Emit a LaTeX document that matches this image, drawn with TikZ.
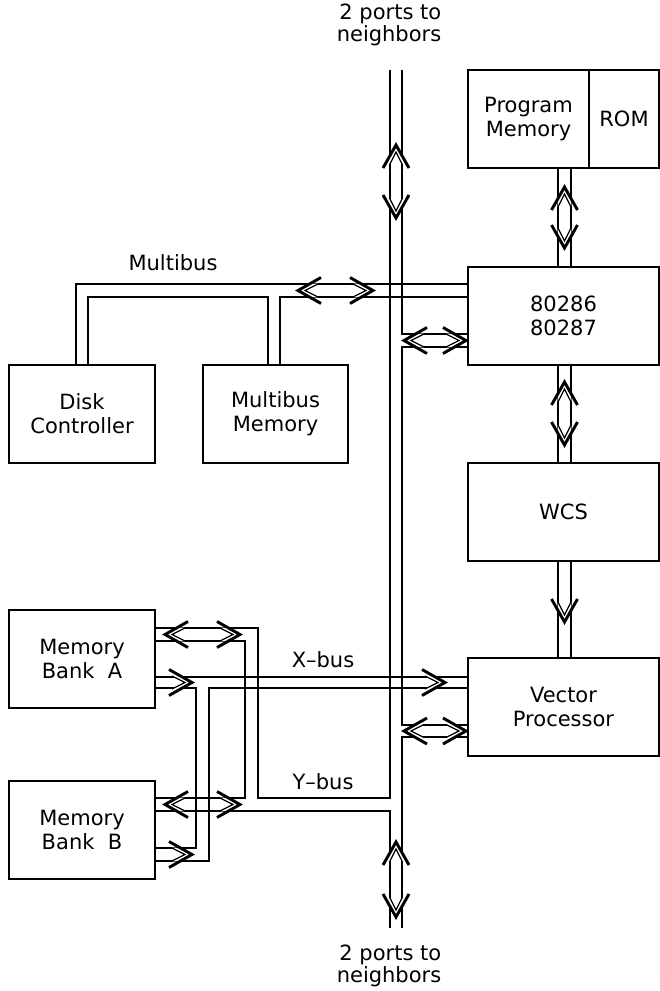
\documentclass[tikz,border=0pt]{standalone}
\usepackage{fontspec}
\setmainfont{DejaVu Sans}
\usetikzlibrary{positioning, calc}
\newcommand{\boxfont}{\fontsize{21}{24}\selectfont}
\newcommand{\portfont}{\fontsize{21}{15}\selectfont}
\tikzset{
    unit/.style={draw, rectangle, line width=1.5pt, inner sep=0pt, outer sep=0pt, minimum height=98pt, align=center, font=\boxfont},
    bus/.style={line width=1.3pt},
    lbl/.style={inner sep=0pt, font=\boxfont},
    ports/.style={inner sep=0pt, align=right, font=\portfont},
    chev/.pic={
        \fill[white] (-20,6.9) -- (-12,6.9) -- (0,0) -- (-12,-6.9) -- (-20,-6.9) -- (-7,0) -- cycle;
        \draw[line width=1.3pt] (-20,6.5) -- (-7,0) -- (-20,-6.5);
        \draw[line width=2.9pt] (-23,13) -- (0,0) -- (-23,-13);
    }
}
\begin{document}
\begin{tikzpicture}[x=1pt, y=-1pt]
    \useasboundingbox (0,0) rectangle (660,991);

    % boxes
    \node [unit, minimum width=121pt, anchor=north west] (pm) at (468,70) {Program\\Memory};
    \node [unit, minimum width=70pt, right=0pt of pm] (rom) {ROM};
    \node [unit, minimum width=191pt, below=99pt of pm.south west, anchor=north west] (cpu) {80286\\80287};
    \node [unit, minimum width=191pt, below=98pt of cpu] (wcs) {WCS};
    \node [unit, minimum width=191pt, below=97pt of wcs] (vp) {Vector\\Processor};
    \node [unit, minimum width=146pt, anchor=north west] (disk) at (9,365) {Disk\\Controller};
    \node [unit, minimum width=145pt, right=48pt of disk] (mbm) {Multibus\\Memory};
    \node [unit, minimum width=146pt, anchor=north west] (bankA) at (9,610) {Memory\\Bank\ \ A};
    \node [unit, minimum width=146pt, below=73pt of bankA] (bankB) {Memory\\Bank\ \ B};

    % labels
    \node [ports] (portsTop) at (389,25) {2 ports to\\neighbors};
    \node [ports] (portsBot) at (389,966) {2 ports to\\neighbors};
    \node [lbl] (multibusLbl) at (173,263) {Multibus};
    \node [lbl] (xbusLbl) at (323,660) {X--bus};
    \node [lbl] (ybusLbl) at (323,782) {Y--bus};

    % bus rails and levels
    \coordinate (railL) at (390,70);
    \coordinate (railR) at (402,70);
    \coordinate (railLb) at (390,928);
    \coordinate (railRb) at (402,928);
    \coordinate (mbT) at (0,284);
    \coordinate (mbB) at (0,297);
    \coordinate (cpT) at (0,334);
    \coordinate (cpB) at (0,347);
    \coordinate (aT) at (0,628);
    \coordinate (aB) at (0,641);
    \coordinate (xT) at (0,677);
    \coordinate (xB) at (0,688);
    \coordinate (vpT) at (0,725);
    \coordinate (vpB) at (0,737);
    \coordinate (yT) at (0,798);
    \coordinate (yB) at (0,811);
    \coordinate (bT) at (0,848);
    \coordinate (bB) at (0,861);
    \coordinate (dkL) at (76,0);
    \coordinate (dkR) at (88,0);
    \coordinate (mmL) at (268,0);
    \coordinate (mmR) at (280,0);
    \coordinate (xL) at (196,0);
    \coordinate (xR) at (209,0);
    \coordinate (yL) at (245,0);
    \coordinate (yR) at (258,0);
    \coordinate (pcL) at (558,0);
    \coordinate (pcR) at (571,0);

    % main bus with Y-bus
    \draw [bus] (railL) |- (yR |- yT) -- (yR |- aT) -- (bankA.east |- aT);
    \draw [bus] (bankA.east |- aB) -| (yL |- yT) -- (bankB.east |- yT);
    \draw [bus] (bankB.east |- yB) -| (railLb);
    \draw [bus] (railR) |- (cpu.west |- cpT);
    \draw [bus] (cpu.west |- cpB) -| (railR |- vpT) -- (vp.west |- vpT);
    \draw [bus] (vp.west |- vpB) -| (railRb);

    % Multibus
    \draw [bus] (cpu.west |- mbT) -| (disk.north -| dkL);
    \draw [bus] (cpu.west |- mbB) -| (mbm.north -| mmR);
    \draw [bus] (mbm.north -| mmL) |- (dkR |- mbB) -- (disk.north -| dkR);

    % X-bus
    \draw [bus] (bankA.east |- xT) -- (vp.west |- xT);
    \draw [bus] (bankA.east |- xB) -| (xL |- bT) -- (bankB.east |- bT);
    \draw [bus] (vp.west |- xB) -| (xR |- bB) -- (bankB.east |- bB);

    % right column links
    \foreach \a/\b in {pm/cpu, cpu/wcs, wcs/vp}
        \foreach \c in {pcL, pcR}
            \draw [bus] (\a.south -| \c) -- (\b.north -| \c);

    % arrow heads
    \foreach \p in {(373,290.5), (466,340.5), (240,634.5), (192,682.5), (445,682.5), (240,804.5), (192,854.5), (466,731)}
        \pic at \p {chev};
    \foreach \p in {(298,290.5), (404,340.5), (165,634.5), (165,804.5), (404,731)}
        \pic [rotate=180] at \p {chev};
    \foreach \p in {(396,145), (564.5,187), (564.5,382), (396,842)}
        \pic [rotate=90] at \p {chev};
    \foreach \p in {(396,218), (564.5,248), (564.5,445), (564.5,622), (396,917)}
        \pic [rotate=-90] at \p {chev};
\end{tikzpicture}
\end{document}
